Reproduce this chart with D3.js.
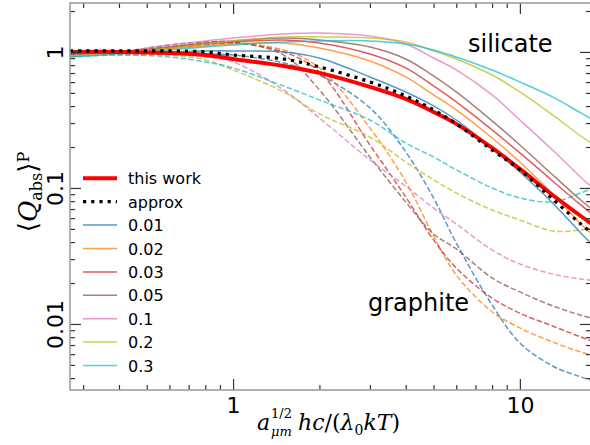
<!DOCTYPE html>
<html><head><meta charset="utf-8">
<script src="https://cdn.jsdelivr.net/npm/d3@7"></script>
<style>body{margin:0;background:#fff}svg{display:block}</style>
</head><body><svg id="c" width="590" height="445"></svg>
<script>
// ---- data ----
const xs = [0.27,0.4,0.6,0.8,1,1.5,2,3,4,5,6,8,10,13,16.3,19.5];
const thisWork = [1.0,1.0,0.983,0.950,0.888,0.789,0.701,0.553,0.451,0.362,0.296,0.197,0.138,0.0888,0.0622,0.0475];
const approx   = [1.017,1.017,1.017,1.0,0.950,0.888,0.776,0.602,0.475,0.375,0.296,0.190,0.136,0.0830,0.0544,0.0401];
const sizes = ["0.01","0.02","0.03","0.05","0.1","0.2","0.3"];
const colors = ["#1f77b4","#ff7f0e","#d62728","#8c564b","#e377c2","#bcbd22","#17becf"];
// silicate (solid)
const sil001 = [0.935,0.983,1.0,1.017,1.017,1.0,0.903,0.655,0.508,0.401,0.316,0.197,0.131,0.0776,0.0467,0.0322];
const sil002 = [0.935,0.983,1.052,1.107,1.145,1.165,1.070,0.859,0.655,0.483,0.375,0.233,0.155,0.0904,0.0544,0.0388];
const sil003 = [0.935,0.983,1.070,1.145,1.184,1.225,1.165,0.967,0.763,0.562,0.429,0.267,0.181,0.1126,0.0750,0.0553];
const sil005 = [0.935,1.0,1.088,1.165,1.205,1.267,1.225,1.088,0.888,0.666,0.508,0.311,0.207,0.125,0.0816,0.0602];
const sil01  = [0.935,1.0,1.126,1.205,1.267,1.356,1.380,1.311,1.145,0.903,0.737,0.483,0.316,0.190,0.120,0.0858];
const sil02  = [0.935,0.983,1.070,1.145,1.205,1.289,1.289,1.267,1.184,1.017,0.888,0.677,0.508,0.344,0.241,0.187];
const sil03  = [0.919,0.967,1.034,1.088,1.126,1.184,1.205,1.205,1.145,1.034,0.919,0.737,0.602,0.467,0.356,0.286];
// graphite (dashed)
const gra001 = [0.935,0.967,0.983,0.967,0.950,0.830,0.677,0.388,0.184,0.0844,0.0394,0.0138,0.00725,0.00491,0.00408,0.00362];
const gra002 = [0.950,1.0,1.070,1.126,1.165,1.034,0.763,0.276,0.111,0.0444,0.0229,0.0123,0.00935,0.00737,0.00623,0.00562];
const gra003 = [0.950,1.0,1.088,1.145,1.165,1.0,0.713,0.207,0.0858,0.0415,0.0258,0.0155,0.0120,0.00967,0.00802,0.00701];
const gra005 = [0.950,1.0,1.126,1.184,1.184,0.950,0.526,0.169,0.0789,0.0459,0.0356,0.0218,0.0172,0.0136,0.0116,0.0105];
const gra01  = [0.935,0.950,0.950,0.919,0.844,0.526,0.327,0.161,0.103,0.0713,0.0544,0.0350,0.0276,0.0233,0.0214,0.0207];
const gra02  = [0.935,0.967,0.950,0.873,0.737,0.508,0.350,0.237,0.155,0.115,0.0919,0.0689,0.0582,0.0483,0.0491,0.0526];
const gra03  = [0.919,0.950,0.919,0.844,0.763,0.562,0.444,0.316,0.214,0.169,0.136,0.100,0.0844,0.0789,0.0919,0.107];
const silicate = [sil001,sil002,sil003,sil005,sil01,sil02,sil03];
const graphite = [gra001,gra002,gra003,gra005,gra01,gra02,gra03];
const xMajor = [1,10];
const yMajor = [0.01,0.1,1];
const xLabels = ["1","10"];
const yLabels = ["0.01","0.1","1"];

// ---- layout ----
const L=70, R=591, T=3, B=390;
const svg = d3.select("#c");
const x = d3.scaleLog().domain([0.27,17.7]).range([L,R]);
const y = d3.scaleLog().domain([0.00327,2.29]).range([B,T]);

svg.append("defs").append("clipPath").attr("id","clip")
  .append("rect").attr("x",L).attr("y",T).attr("width",R-L).attr("height",B-T);

const line = d3.line().x((d,i)=>x(xs[i])).y(d=>y(d)).curve(d3.curveCatmullRom.alpha(0.5));
const plot = svg.append("g").attr("clip-path","url(#clip)");

graphite.forEach((s,i)=>{
  plot.append("path").attr("d",line(s)).attr("fill","none")
    .attr("stroke",colors[i]).attr("stroke-opacity",0.75).attr("stroke-width",1.5)
    .attr("stroke-dasharray","5.5,2.4");
});
silicate.forEach((s,i)=>{
  plot.append("path").attr("d",line(s)).attr("fill","none")
    .attr("stroke",colors[i]).attr("stroke-opacity",0.75).attr("stroke-width",1.5);
});
plot.append("path").attr("d",line(thisWork)).attr("fill","none")
  .attr("stroke","#ff0000").attr("stroke-width",4);
plot.append("path").attr("d",line(approx)).attr("fill","none")
  .attr("stroke","#000").attr("stroke-width",3.2).attr("stroke-dasharray","3.2,5");

// ---- axes ----
const xMinor = [];
[0.1,1,10].forEach(d=>{for(let k=2;k<10;k++){const v=d*k; if(v>0.27&&v<17.7) xMinor.push(v);}});
const yMinor = [];
[0.001,0.01,0.1,1].forEach(d=>{for(let k=2;k<10;k++){const v=d*k; if(v>0.00327&&v<2.29) yMinor.push(v);}});

function styleAxis(g){
  g.select(".domain").remove();
  g.selectAll(".tick line").attr("stroke","#333").attr("stroke-width",1.2);
}
const fontTick = "'DejaVu Sans', sans-serif";

svg.append("g").attr("transform",`translate(0,${B})`)
  .call(d3.axisBottom(x).tickValues(xMinor).tickSize(-5).tickFormat("")).call(styleAxis);
svg.append("g").attr("transform",`translate(0,${B})`)
  .call(d3.axisBottom(x).tickValues(xMajor).tickSize(-11).tickPadding(7).tickFormat((d,i)=>xLabels[i]))
  .call(styleAxis)
  .call(g=>g.selectAll("text").attr("font-family",fontTick).attr("font-size",22).attr("fill","#000"));
svg.append("g").attr("transform",`translate(0,${T})`)
  .call(d3.axisTop(x).tickValues(xMinor).tickSize(-5).tickFormat("")).call(styleAxis);
svg.append("g").attr("transform",`translate(0,${T})`)
  .call(d3.axisTop(x).tickValues(xMajor).tickSize(-11).tickFormat("")).call(styleAxis);

svg.append("g").attr("transform",`translate(${L},0)`)
  .call(d3.axisLeft(y).tickValues(yMinor).tickSize(-5).tickFormat("")).call(styleAxis);
svg.append("g").attr("transform",`translate(${L},0)`)
  .call(d3.axisLeft(y).tickValues(yMajor).tickSize(-11).tickFormat((d,i)=>yLabels[i]))
  .call(styleAxis)
  .call(g=>g.selectAll("text").attr("x",null).attr("dy",null)
     .attr("transform","translate(-7,0) rotate(-90)").attr("text-anchor","middle")
     .attr("font-family",fontTick).attr("font-size",22).attr("fill","#000"));
svg.append("g").attr("transform",`translate(${R},0)`)
  .call(d3.axisRight(y).tickValues(yMinor).tickSize(-5).tickFormat("")).call(styleAxis);
svg.append("g").attr("transform",`translate(${R},0)`)
  .call(d3.axisRight(y).tickValues(yMajor).tickSize(-11).tickFormat("")).call(styleAxis);

// spines
svg.append("rect").attr("x",L).attr("y",T).attr("width",R-L).attr("height",B-T)
  .attr("fill","none").attr("stroke","#999").attr("stroke-width",1.5);

// ---- labels ----
const serif = "'DejaVu Serif', serif";
const xl = svg.append("g").attr("font-family",serif).attr("fill","#000");
xl.append("text").attr("x",257).attr("y",430).attr("font-size",22).attr("font-style","italic").text("a");
xl.append("text").attr("x",271).attr("y",418).attr("font-size",13).text("1/2");
xl.append("text").attr("x",271).attr("y",436).attr("font-size",13).attr("font-style","italic").text("μm");
const xm = xl.append("text").attr("x",298).attr("y",430).attr("font-size",22);
xm.append("tspan").attr("font-style","italic").text("hc");
xm.append("tspan").text("/(");
xm.append("tspan").attr("font-style","italic").text("λ");
xm.append("tspan").attr("font-size",14).attr("dy",5).text("0");
xm.append("tspan").attr("font-style","italic").attr("dy",-5).text("kT");
xm.append("tspan").text(")");

const yl = svg.append("text").attr("font-family",serif).attr("fill","#000")
  .attr("text-anchor","middle").attr("transform","translate(37,192) rotate(-90)").attr("font-size",26);
yl.append("tspan").text("⟨");
yl.append("tspan").attr("font-style","italic").text("Q");
yl.append("tspan").attr("font-size",16).attr("dy",5).text("abs");
yl.append("tspan").attr("dy",-5).text("⟩");
yl.append("tspan").attr("font-size",16).attr("dy",-8).text("P");

svg.append("text").attr("x",468).attr("y",52).attr("font-family",fontTick).attr("font-size",24).text("silicate");
svg.append("text").attr("x",368).attr("y",311).attr("font-family",fontTick).attr("font-size",24).text("graphite");

// ---- legend ----
const leg = svg.append("g").attr("font-family",fontTick).attr("font-size",16);
const entries = [{label:"this work",c:"#ff0000",w:4,dash:null,op:1},
                 {label:"approx",c:"#000",w:3.2,dash:"3.2,5",op:1}]
  .concat(sizes.map((s,i)=>({label:s,c:colors[i],w:1.5,dash:null,op:0.75})));
entries.forEach((e,i)=>{
  const ly = 178.3 + i*23.4;
  leg.append("line").attr("x1",83).attr("x2",117).attr("y1",ly).attr("y2",ly)
    .attr("stroke",e.c).attr("stroke-width",e.w).attr("stroke-opacity",e.op)
    .attr("stroke-dasharray",e.dash);
  leg.append("text").attr("x",128).attr("y",ly+6).text(e.label);
});
</script></body></html>
